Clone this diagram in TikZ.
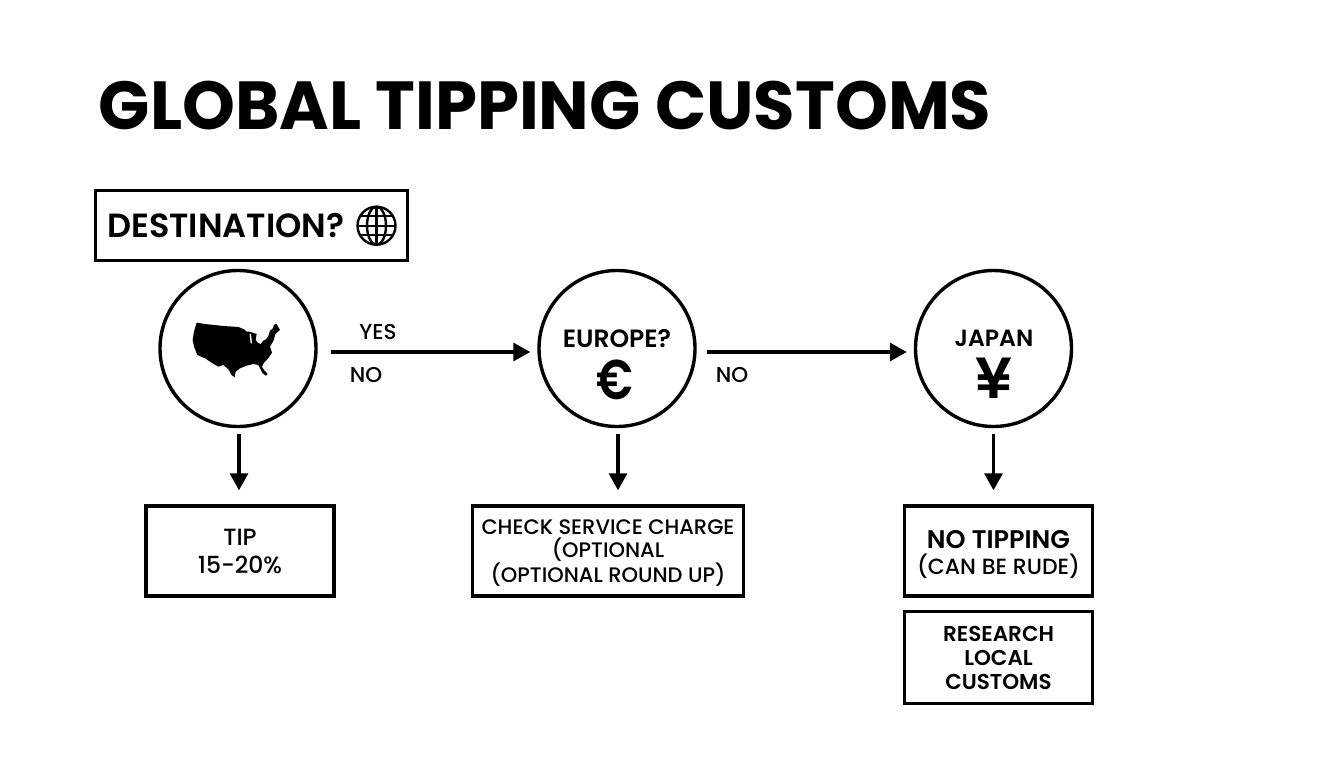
\documentclass[tikz,border=0pt]{standalone}
\usepackage{fontspec}
\setmainfont{Poppins}
\newfontfamily\med{Poppins Medium}
\newfontfamily\semi{Poppins SemiBold}
\newfontfamily\bld{Poppins}[UprightFont=* Bold]
\usetikzlibrary{arrows.meta}
\tikzset{
  ink/.style={draw=black,line width=3.4pt},
  qcircle/.style={circle,ink,minimum size=156pt,inner sep=0pt},
  rbox/.style={rectangle,ink,inner sep=0pt},
  txt/.style={inner sep=0pt,align=center,text=black},
  conn/.style={draw=black,line width=3.2pt,-{Triangle[length=17pt,width=18pt]}},
  lab/.style={txt,font=\med\fontsize{21.5}{24}\selectfont}
}
\begin{document}
\begin{tikzpicture}[x=1pt,y=-1pt]
\useasboundingbox[fill=white] (0,0) rectangle (1344,768);
\node[txt,font=\bld\fontsize{68}{68}\selectfont] (title) at (545,106) {\scalebox{0.99}[1]{GLOBAL TIPPING CUSTOMS}};
\node[rbox,minimum width=312pt,minimum height=70pt] (dest) at (251.5,225.5) {};
\node[txt,anchor=west,font=\semi\fontsize{33.5}{36}\selectfont] (destlabel) at (107,226) {DESTINATION?};
\begin{scope}[shift={(376.5,225.7)},line width=2.4pt]
  \draw (0,0) circle (19);
  \draw (0,0) ellipse (9.5 and 19);
  \draw (0,-19) -- (0,19);
  \draw (-19,0) -- (19,0);
  \draw (-16.5,-9.5) -- (16.5,-9.5);
  \draw (-16.5,9.5) -- (16.5,9.5);
\end{scope}
\node[qcircle] (usa) at (238,348.5) {};
\begin{scope}[shift={(90,180)},x=0.3333pt,y=-0.3333pt]
\fill[black]
 (320,428) -- (345,432) -- (400,438) -- (445,441) -- (462,448) -- (470,455) -- (478,455) -- (500,462) -- (497,480) -- (503,488) -- (512,492) -- (520,482) -- (528,478) -- (535,468) -- (540,452) -- (548,446) -- (552,434) -- (560,432) -- (570,450) -- (556,462) -- (552,478) -- (546,490) -- (540,500) -- (546,518) -- (535,535) -- (522,548) -- (516,560) -- (522,570) -- (533,582) -- (528,587) -- (518,580) -- (505,555) -- (490,552) -- (470,557) -- (450,565) -- (437,575) -- (434,592) -- (425,585) -- (415,568) -- (400,555) -- (385,560) -- (365,548) -- (345,535) -- (322,525) -- (312,500) -- (308,480) -- (312,455) -- cycle;
\draw[white,line width=1.4pt] (481,462) -- (484,490);
\end{scope}
\node[qcircle] (eur) at (617,348.5) {};
\node[txt,font=\semi\fontsize{25}{27}\selectfont] (eurlabel) at (617,339) {EUROPE?};
\node[txt,font=\semi\fontsize{56}{56}\selectfont] (eursym) at (615,380) {\scalebox{0.82}[1]{€}};
\node[qcircle] (jpn) at (993.5,348.5) {};
\node[txt,font=\semi\fontsize{23.5}{26}\selectfont] (jpnlabel) at (994,338) {JAPAN};
\node[txt,font=\semi\fontsize{58}{58}\selectfont] (jpnsym) at (994,378) {¥};
\node[rbox,minimum width=188pt,minimum height=90pt] (tip) at (240,551) {};
\node[txt,font=\med\fontsize{23.5}{28}\selectfont] (tiptext) at (240,551) {TIP\\15-20\%};
\node[rbox,minimum width=271pt,minimum height=90pt] (chk) at (608,551) {};
\node[txt,font=\med\fontsize{21}{23}\selectfont] (chktext) at (608,553) {CHECK SERVICE CHARGE\\(OPTIONAL\\(OPTIONAL ROUND UP)};
\node[rbox,minimum width=188pt,minimum height=90pt] (not) at (998.5,551) {};
\node[txt,font=\semi\fontsize{25.5}{26}\selectfont] (nottext) at (998.5,540) {NO TIPPING};
\node[txt,font=\med\fontsize{22}{26}\selectfont] (cantext) at (998.5,566) {(CAN BE RUDE)};
\node[rbox,minimum width=188pt,minimum height=92pt] (res) at (998.5,657.5) {};
\node[txt,font=\semi\fontsize{21.5}{24}\selectfont] (restext) at (998.5,658) {RESEARCH\\LOCAL\\CUSTOMS};
\node[lab] (yes) at (378,332) {YES};
\node[lab] (no1) at (366,375) {NO};
\node[lab] (no2) at (732,375) {NO};
\draw[conn,shorten <=13pt,shorten >=7pt] ([yshift=-3.5pt]usa.east) -- ([yshift=-3.5pt]eur.west);
\draw[conn,shorten <=10pt,shorten >=7pt] ([yshift=-3.5pt]eur.east) -- ([yshift=-3.5pt]jpn.west);
\draw[conn,shorten <=6pt,shorten >=14pt] ([xshift=1pt]usa.south) -- ([xshift=1pt]usa.south |- tip.north);
\draw[conn,shorten <=6pt,shorten >=14pt] ([xshift=1pt]eur.south) -- ([xshift=1pt]eur.south |- chk.north);
\draw[conn,shorten <=6pt,shorten >=14pt] (jpn.south) -- (jpn.south |- not.north);
\end{tikzpicture}
\end{document}
